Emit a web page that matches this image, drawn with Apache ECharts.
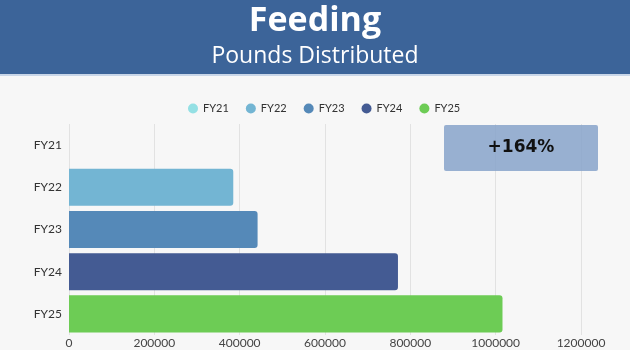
<!DOCTYPE html>
<html><head><meta charset="utf-8">
<script src="https://cdn.jsdelivr.net/npm/echarts@6/dist/echarts.min.js"></script>
<style>html,body{margin:0;padding:0;background:#f7f7f7}#c{width:630px;height:350px}</style>
</head><body><div id="c"></div>
<script>
const categories = ['FY21','FY22','FY23','FY24','FY25'];
const seriesNames = ['FY21','FY22','FY23','FY24','FY25'];
const values = [0, 385000, 442000, 771000, 1016000];
const colors = ['#94e0e4','#73b5d3','#5589b8','#445b93','#6dcc55'];
const xTicks = [0,200000,400000,600000,800000,1000000,1200000];
const titleText = 'Feeding';
const subtitleText = 'Pounds Distributed';
const annotationText = '+164%';

const chart = echarts.init(document.getElementById('c'));
const series = seriesNames.map((name, i) => ({
  name: name,
  type: 'bar',
  stack: 'all',
  barWidth: '88%',
  itemStyle: { color: colors[i], borderRadius: [0,3,3,0] },
  data: categories.map((c, j) => j === i ? values[i] : '-')
}));
chart.setOption({
  backgroundColor: '#f7f7f7',
  animation: false,
  title: [{
    text: titleText, left: 'center', top: -1,
    textStyle: { color: '#fff', fontFamily: 'Open Sans', fontWeight: 'bold', fontSize: 34 }
  },{
    text: subtitleText, left: 'center', top: 40,
    textStyle: { color: '#fff', fontFamily: 'Open Sans', fontWeight: 'normal', fontSize: 23 }
  }],
  graphic: [
    { type: 'rect', z: -1, left: 0, top: 0, shape: { width: 630, height: 74 }, style: { fill: '#3c6499' } },
    { type: 'rect', z: -1, left: 0, top: 74, shape: { width: 630, height: 2 }, style: { fill: '#c9d6e8' } },
    { type: 'rect', z: 100, left: 444, top: 125, shape: { width: 154, height: 46, r: 2 }, style: { fill: 'rgba(135,163,202,0.85)' } },
    { type: 'text', z: 101, x: 521, y: 148, style: { text: annotationText, fill: '#111', font: 'bold 17px "DejaVu Sans"', align: 'center', verticalAlign: 'middle' } }
  ],
  legend: {
    top: 98, left: 183, itemGap: 17, itemWidth: 10, itemHeight: 10, icon: 'circle',
    textStyle: { color: '#333', fontFamily: 'Lato', fontSize: 11 },
    data: seriesNames
  },
  grid: { left: 69, right: 49, top: 124, bottom: 15, containLabel: false },
  xAxis: {
    type: 'value', min: 0, max: 1200000, interval: 200000,
    axisLine: { show: false }, axisTick: { show: false },
    splitLine: { lineStyle: { color: '#e2e2e2' } },
    axisLabel: { color: '#444', fontFamily: 'Lato', fontSize: 12, margin: 2,
      formatter: v => xTicks.includes(v) ? String(v) : '' }
  },
  yAxis: {
    type: 'category', inverse: true, data: categories,
    axisLine: { show: false }, axisTick: { show: false },
    axisLabel: { color: '#333', fontFamily: 'Lato', fontSize: 12, margin: 7 }
  },
  series: series
});
</script></body></html>
